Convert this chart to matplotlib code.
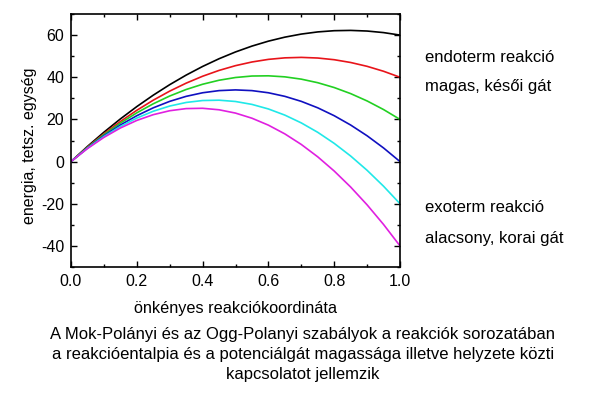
import matplotlib
matplotlib.use("Agg")
import matplotlib.pyplot as plt
from matplotlib.ticker import MultipleLocator

x = [0.0, 0.05, 0.1, 0.15, 0.2, 0.25, 0.3, 0.35, 0.4, 0.45, 0.5,
     0.55, 0.6, 0.65, 0.7, 0.75, 0.8, 0.85, 0.9, 0.95, 1.0]

black = [0, 7.18, 13.92, 20.22, 26.08, 31.5, 36.48, 41.02, 45.12, 48.78, 52.0,
         54.78, 57.12, 59.02, 60.48, 61.5, 62.08, 62.22, 61.92, 61.18, 60.0]
red = [0, 6.85, 13.18, 19.0, 24.32, 29.12, 33.42, 37.2, 40.48, 43.24, 45.5,
       47.24, 48.48, 49.2, 49.42, 49.12, 48.32, 47.0, 45.18, 42.84, 40.0]
green = [0, 6.68, 12.76, 18.24, 23.12, 27.41, 31.1, 34.19, 36.68, 38.58, 39.88,
         40.58, 40.68, 40.19, 39.1, 37.41, 35.12, 32.24, 28.76, 24.68, 20.0]
blue = [0, 6.46, 12.24, 17.34, 21.76, 25.5, 28.56, 30.94, 32.64, 33.66, 34.0,
        33.66, 32.64, 30.94, 28.56, 25.5, 21.76, 17.34, 12.24, 6.46, 0.0]
cyan = [0, 6.32, 11.86, 16.64, 20.64, 23.88, 26.34, 28.04, 28.96, 29.12, 28.5,
        27.12, 24.96, 22.04, 18.34, 13.88, 8.64, 2.64, -4.14, -11.69, -20.0]
magenta = [0, 6.17, 11.48, 15.93, 19.52, 22.25, 24.12, 25.13, 25.28, 24.57, 23.0,
           20.57, 17.28, 13.13, 8.12, 2.25, -4.48, -12.07, -20.52, -29.83, -40.0]

series = [black, red, green, blue, cyan, magenta]
colors = ["#000000", "#e8141a", "#22d022", "#1010c0", "#20e8e8", "#e020e0"]

xticks = [0.0, 0.2, 0.4, 0.6, 0.8, 1.0]
yticks = [-40, -20, 0, 20, 40, 60]

plt.rcParams['font.family'] = ['Liberation Sans', 'DejaVu Sans']

fig = plt.figure(figsize=(6.0, 3.93), dpi=100)
ax = fig.add_axes([71/600, 1-267/393, 329/600, 253/393])

for s, c in zip(series, colors):
    ax.plot(x, s, color=c, lw=1.2)

ax.set_xlim(0, 1.0)
ax.set_ylim(-50, 70)
ax.set_xticks(xticks)
ax.set_xticklabels([f"{t:.1f}" for t in xticks])
ax.set_yticks(yticks)
ax.set_yticklabels([str(t) for t in yticks])
ax.xaxis.set_minor_locator(MultipleLocator(0.1))
ax.yaxis.set_minor_locator(MultipleLocator(10))
ax.tick_params(which='both', direction='in', top=True, right=True, labelsize=11.5, width=1.0)
ax.tick_params(which='major', length=4.5, pad=5)
ax.tick_params(which='minor', length=2.5)
for sp in ax.spines.values():
    sp.set_linewidth(1.2)

fig.text(30/600, 1-146/393, "energia, tetsz. egység", rotation=90,
         ha='center', va='center', fontsize=11.5)
fig.text(235.5/600, 1-309/393, "önkényes reakciókoordináta",
         ha='center', va='center', fontsize=11.7)

fig.text(425/600, 1-57/393, "endoterm reakció", ha='left', va='center', fontsize=12)
fig.text(425/600, 1-87/393, "magas, késői gát", ha='left', va='center', fontsize=12)
fig.text(425/600, 1-208/393, "exoterm reakció", ha='left', va='center', fontsize=12)
fig.text(425/600, 1-238/393, "alacsony, korai gát", ha='left', va='center', fontsize=12)

caption = ["A Mok-Polányi és az Ogg-Polanyi szabályok a reakciók sorozatában",
           "a reakcióentalpia és a potenciálgát magassága illetve helyzete közti",
           "kapcsolatot jellemzik"]
for i, line in enumerate(caption):
    fig.text(303/600, 1-(335+19.7*i)/393, line, ha='center', va='center', fontsize=12)

fig.savefig("out.png", dpi=100)
